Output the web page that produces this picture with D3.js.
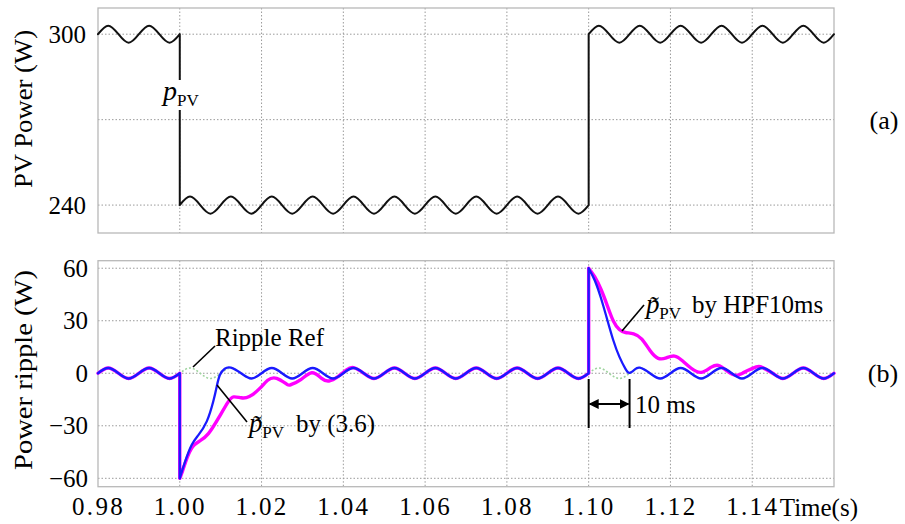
<!DOCTYPE html>
<html>
<head>
<meta charset="utf-8">
<script src="https://cdn.jsdelivr.net/npm/d3@7"></script>
</head>
<body style="margin:0;background:#fff">
<div id="chart"></div>
<script>
////////////////////////////////////////////////////////////////////////////////////////
// data
////////////////////////////////////////////////////////////////////////////////////////
var rippleTime = [0.98,0.9825,0.985,0.9875,0.99,0.9925,0.995,0.9975,
	1.00,1.0025,1.005,1.0075,1.01,1.0125,1.015,1.0175,1.02,1.0225,1.025,1.0275,
	1.03,1.0325,1.035,1.0375,1.04,1.0425,1.045,1.0475,1.05,1.0525,1.055,1.0575,
	1.06,1.0625,1.065,1.0675,1.07,1.0725,1.075,1.0775,1.08,1.0825,1.085,1.0875,
	1.09,1.0925,1.095,1.0975,1.10,1.1025,1.105,1.1075,1.11,1.1125,1.115,1.1175,
	1.12,1.1225,1.125,1.1275,1.13,1.1325,1.135,1.1375,1.14,1.1425,1.145,1.1475,
	1.15,1.1525,1.155,1.1575,1.16];
var rippleRef = [0,3,0,-3,0,3,0,-3,
	0,3,0,-3,0,3,0,-3,0,3,0,-3,
	0,3,0,-3,0,3,0,-3,0,3,0,-3,
	0,3,0,-3,0,3,0,-3,0,3,0,-3,
	0,3,0,-3,0,3,0,-3,0,3,0,-3,
	0,3,0,-3,0,3,0,-3,0,3,0,-3,
	0,3,0,-3,0];

// PV power: 0.98-1.00, 1.00-1.10, 1.10-1.16 (same sample times as rippleTime)
var pvHigh1 = [300,303,300,297,300,303,300,297,300];
var pvLow = [240,243,240,237,240,243,240,237,240,243,240,237,240,243,240,237,
	240,243,240,237,240,243,240,237,240,243,240,237,240,243,240,237,
	240,243,240,237,240,243,240,237,240];
var pvHigh2 = [300,303,300,297,300,303,300,297,300,303,300,297,
	300,303,300,297,300,303,300,297,300,303,300,297,300];

// transients: blue = by (3.6), magenta = by HPF10ms
var blueStep1Time = [1.00,1.0013,1.0029,1.0045,1.0066,1.0082,1.0090,1.0098,1.0110,1.0125];
var blueStep1 = [-60,-50.5,-41,-35.5,-27.5,-16,-8,-1,2.6,3.2];
var blueStep2Time = [1.10,1.1015,1.103,1.1045,1.106,1.1075,1.109,1.110,1.1112,1.1125];
var blueStep2 = [60,53,43,31,19,9.5,2.5,0.2,2,3.2];

var magStep1Time = [1.00,1.0005,1.002,1.0035,1.005,1.007,1.0095,1.0118,1.0132,1.015,1.017,
	1.0195,1.0215,1.0237,1.0262,1.0272,1.0295,1.0323,1.0347,1.0365,1.0387,1.0408,1.0425];
var magStep1 = [-60,-57,-47,-41,-38.5,-34.5,-25.5,-16.5,-13.5,-14,-13.3,
	-8.8,-4,-2.9,-6.3,-6.5,-3.8,0.3,-2.9,-4.4,-1.9,1.9,3.2];
var magStep2Time = [1.10,1.1015,1.103,1.1045,1.106,1.1075,1.109,1.111,1.113,1.115,1.117,
	1.119,1.121,1.123,1.125,1.1275,1.130,1.132,1.134,1.136,1.138,1.141,1.1425];
var magStep2 = [60,55,48,39,30,25,23.3,22.5,19.5,13,8.5,
	8.8,9.8,7,3,0.5,3.5,4.3,1,-1.2,0.5,3.6,3.3];

var xTicks = [0.98,1.00,1.02,1.04,1.06,1.08,1.10,1.12,1.14];
var xGrid = [1.00,1.02,1.04,1.06,1.08,1.10,1.12,1.14];
var topGrid = [240,270,300];
var topTicks = [240,300];
var botTicks = [-60,-30,0,30,60];

////////////////////////////////////////////////////////////////////////////////////////
// build point lists (continuous segments; the steps join them)
////////////////////////////////////////////////////////////////////////////////////////
function pairs(ts, vs) {
	return ts.map(function (t, i) { return [t, vs[i]]; });
}
var ripplePts = pairs(rippleTime, rippleRef);
function rippleBetween(a, b) {
	return ripplePts.filter(function (d) { return d[0] >= a - 1e-9 && d[0] <= b + 1e-9; });
}

var pvSegs = [
	pairs(rippleTime.slice(0, 9), pvHigh1),
	pairs(rippleTime.slice(8, 49), pvLow),
	pairs(rippleTime.slice(48), pvHigh2)
];

var blueSegs = [
	rippleBetween(0.98, 1.00),
	pairs(blueStep1Time, blueStep1).concat(rippleBetween(1.015, 1.10)),
	pairs(blueStep2Time, blueStep2).concat(rippleBetween(1.115, 1.16))
];

var magSegs = [
	rippleBetween(0.98, 1.00),
	pairs(magStep1Time, magStep1).concat(rippleBetween(1.045, 1.10)),
	pairs(magStep2Time, magStep2).concat(rippleBetween(1.145, 1.16))
];

////////////////////////////////////////////////////////////////////////////////////////
// chart
////////////////////////////////////////////////////////////////////////////////////////
var FONT = "'Liberation Serif', 'Times New Roman', serif";
var width = 905, height = 524;
var left = 98, right = 834;
var topP = {t: 8, b: 233};
var botP = {t: 260.7, b: 486.7};

var svg = d3.select("#chart").append("svg")
	.attr("width", width)
	.attr("height", height);

var x = d3.scaleLinear().domain([0.98, 1.16]).range([left, right]);
var yTop = d3.scaleLinear().domain([230.2, 309.2]).range([topP.b, topP.t]);
var yBot = d3.scaleLinear().domain([-64.8, 64.3]).range([botP.b, botP.t]);

function drawFrame(p, y, hGrid) {
	var g = svg.append("g");
	g.selectAll(".hg").data(hGrid).join("line")
		.attr("x1", left).attr("x2", right)
		.attr("y1", function (d) { return y(d); }).attr("y2", function (d) { return y(d); })
		.attr("stroke", "#9a9a9a").attr("stroke-width", 1).attr("stroke-dasharray", "1.5,2");
	g.selectAll(".vg").data(xGrid).join("line")
		.attr("x1", function (d) { return x(d); }).attr("x2", function (d) { return x(d); })
		.attr("y1", p.t).attr("y2", p.b)
		.attr("stroke", "#9a9a9a").attr("stroke-width", 1).attr("stroke-dasharray", "1.5,2");
	g.append("rect")
		.attr("x", left).attr("y", p.t)
		.attr("width", right - left).attr("height", p.b - p.t)
		.attr("fill", "none").attr("stroke", "#b8b8b8").attr("stroke-width", 1.3);
}
drawFrame(topP, yTop, topGrid);
drawFrame(botP, yBot, botTicks);

// y axes
svg.append("g")
	.attr("transform", "translate(" + left + ",0)")
	.call(d3.axisLeft(yTop).tickValues(topTicks).tickSize(0).tickPadding(12).tickFormat(d3.format("d")))
	.call(function (g) { g.select(".domain").remove(); })
	.selectAll("text").style("font-size", "25px");

svg.append("g")
	.attr("transform", "translate(" + left + ",0)")
	.call(d3.axisLeft(yBot).tickValues(botTicks).tickSize(0).tickPadding(10).tickFormat(d3.format("d")))
	.call(function (g) { g.select(".domain").remove(); })
	.selectAll("text").style("font-size", "25px");

// x axis
svg.append("g")
	.attr("transform", "translate(0," + botP.b + ")")
	.call(d3.axisBottom(x).tickValues(xTicks).tickSize(0).tickPadding(11).tickFormat(d3.format(".2f")))
	.call(function (g) { g.select(".domain").remove(); })
	.selectAll("text").style("font-size", "25px").style("letter-spacing", "2.3px");

svg.append("text").attr("x", 858).attr("y", 516).attr("text-anchor", "end")
	.style("font-size", "25px").text("Time(s)");

// axis titles
svg.append("text")
	.attr("transform", "translate(32,109) rotate(-90)")
	.attr("text-anchor", "middle")
	.attr("textLength", 158).attr("lengthAdjust", "spacingAndGlyphs")
	.style("font-size", "26px").text("PV Power (W)");
svg.append("text")
	.attr("transform", "translate(32,370) rotate(-90)")
	.attr("text-anchor", "middle")
	.attr("textLength", 200).attr("lengthAdjust", "spacingAndGlyphs")
	.style("font-size", "26px").text("Power ripple (W)");

// panel tags
svg.append("text").attr("x", 884).attr("y", 129).attr("text-anchor", "middle")
	.style("font-size", "26px").text("(a)");
svg.append("text").attr("x", 883).attr("y", 382).attr("text-anchor", "middle")
	.style("font-size", "26px").text("(b)");

// lines: smooth inside a segment, straight steps between segments
function segPath(segs, y) {
	var smooth = d3.line()
		.x(function (d) { return x(d[0]); })
		.y(function (d) { return y(d[1]); })
		.curve(d3.curveNatural);
	var straight = d3.line()
		.x(function (d) { return x(d[0]); })
		.y(function (d) { return y(d[1]); });
	var d = segs.map(function (s) { return smooth(s); }).join("");
	for (var i = 1; i < segs.length; i++) {
		d += straight([segs[i - 1][segs[i - 1].length - 1], segs[i][0]]);
	}
	return d;
}

svg.append("path").attr("d", segPath(pvSegs, yTop))
	.attr("fill", "none").attr("stroke", "#111").attr("stroke-width", 2)
	.attr("stroke-linecap", "round");

svg.append("path").attr("d", segPath([ripplePts], yBot))
	.attr("fill", "none").attr("stroke", "#9fd49f").attr("stroke-width", 1.6)
	.attr("stroke-dasharray", "2,2");
svg.append("path").attr("d", segPath(magSegs, yBot))
	.attr("fill", "none").attr("stroke", "#ff00ff").attr("stroke-width", 3.4)
	.attr("stroke-linecap", "round");
svg.append("path").attr("d", segPath(blueSegs, yBot))
	.attr("fill", "none").attr("stroke", "#1a1aff").attr("stroke-width", 2.3)
	.attr("stroke-linecap", "round");

// p_PV label on top panel (white gap in the step)
svg.append("rect").attr("x", x(1.00) - 4).attr("y", 80).attr("width", 8).attr("height", 30).attr("fill", "#fff");
var lbl = svg.append("text").attr("x", 163).attr("y", 100);
lbl.append("tspan").style("font-size", "28px").style("font-style", "italic").text("p");
lbl.append("tspan").attr("dy", 6).style("font-size", "17px").text("PV");

// annotations, bottom panel: p~_PV followed by the note, in one text
function pTilde(px, py, rest, restX) {
	var t = svg.append("text").attr("x", px).attr("y", py);
	t.append("tspan").style("font-size", "27px").style("font-style", "italic").text("p");
	t.append("tspan").attr("dx", -11).attr("dy", 1).style("font-size", "26px").style("font-style", "italic").text("\u02DC");
	t.append("tspan").attr("dx", 2).attr("dy", 5).style("font-size", "17px").text("PV");
	t.append("tspan").attr("x", restX).attr("y", py).style("font-size", "25px").text(rest);
}

svg.append("text").attr("x", 215).attr("y", 346).style("font-size", "25px").text("Ripple Ref");
svg.append("line").attr("x1", 215).attr("y1", 346).attr("x2", 193).attr("y2", 367)
	.attr("stroke", "#000").attr("stroke-width", 1.6);

pTilde(249, 432, "by (3.6)", 296);
svg.append("line").attr("x1", 217).attr("y1", 385).attr("x2", 247).attr("y2", 422)
	.attr("stroke", "#000").attr("stroke-width", 1.6);

pTilde(646, 313, "by HPF10ms", 692);
svg.append("line").attr("x1", 644).attr("y1", 305).attr("x2", 622).attr("y2", 331)
	.attr("stroke", "#000").attr("stroke-width", 1.6);

// 10 ms marker
var defs = svg.append("defs");
defs.append("marker").attr("id", "ah").attr("viewBox", "0 0 10 10")
	.attr("refX", 9).attr("refY", 5).attr("markerWidth", 5).attr("markerHeight", 5)
	.attr("orient", "auto-start-reverse")
	.append("path").attr("d", "M0,0 L10,5 L0,10 z").attr("fill", "#000");

[1.10, 1.11].forEach(function (t) {
	svg.append("line").attr("x1", x(t)).attr("x2", x(t)).attr("y1", 379).attr("y2", 428)
		.attr("stroke", "#000").attr("stroke-width", 2);
});
svg.append("line").attr("x1", x(1.10) + 1).attr("x2", x(1.11) - 1).attr("y1", 404).attr("y2", 404)
	.attr("stroke", "#000").attr("stroke-width", 2)
	.attr("marker-start", "url(#ah)").attr("marker-end", "url(#ah)");
svg.append("text").attr("x", 635).attr("y", 413).style("font-size", "25px").text("10 ms");

// one font for every text
svg.selectAll("text").style("font-family", FONT).style("fill", "#000");
</script>
</body>
</html>
